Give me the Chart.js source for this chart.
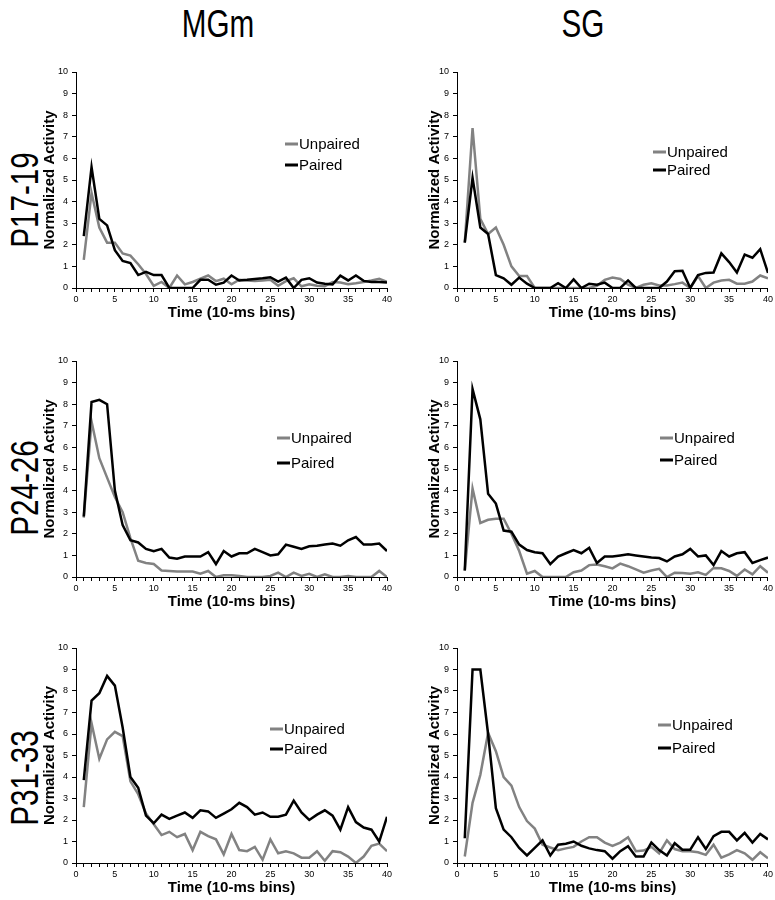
<!DOCTYPE html>
<html lang="en">
<head>
<meta charset="UTF-8">
<title>Normalized Activity</title>
<script src="https://cdn.jsdelivr.net/npm/chart.js"></script>
<style>
  body { margin: 0; background: #fff; }
  #page { position: relative; width: 775px; height: 900px; font-family: "Liberation Sans", Arial, sans-serif; overflow: hidden; }
  canvas { position: absolute; }
  .big { position: absolute; font-size: 38px; line-height: 1; white-space: nowrap; color: #000; }
  .lg { position: absolute; font-size: 15px; line-height: 1; white-space: nowrap; transform: translateY(-50%); }
  .lg span { display: inline-block; width: 13px; height: 3px; vertical-align: middle; margin-right: 1px; position: relative; top: -1px; }
</style>
</head>
<body>
<div id="page"></div>
<script>
// time bins (10 ms)
var bins = [1,2,3,4,5,6,7,8,9,10,11,12,13,14,15,16,17,18,19,20,21,22,23,24,25,26,27,28,29,30,31,32,33,34,35,36,37,38,39,40];
var xTickLabels = [0,5,10,15,20,25,30,35,40];
var yTicks = [0,1,2,3,4,5,6,7,8,9,10];
var colTitles = ['MGm', 'SG'];
var rowTitles = ['P17-19', 'P24-26', 'P31-33'];
var seriesNames = ['Unpaired', 'Paired'];

// P17-19
var mgm17Unp  = [1.3,4.4,2.8,2.1,2.1,1.6,1.5,1.1,0.65,0.1,0.28,0,0.58,0.17,0.28,0.43,0.58,0.32,0.43,0.17,0.38,0.35,0.32,0.35,0.38,0.1,0.32,0.45,0.08,0.17,0.1,0.08,0.28,0.25,0.17,0.22,0.28,0.35,0.43,0.28];
var mgm17Pair = [2.4,5.6,3.2,2.9,1.75,1.25,1.15,0.6,0.75,0.6,0.6,0,0,0,0,0.38,0.38,0.15,0.25,0.58,0.35,0.38,0.42,0.45,0.5,0.3,0.48,0,0.38,0.45,0.25,0.2,0.17,0.57,0.35,0.58,0.33,0.28,0.28,0.25];
var sg17Unp   = [2.1,7.4,3.2,2.5,2.8,2.0,1.0,0.55,0.55,0,0,0,0,0,0,0,0,0.1,0.38,0.48,0.42,0.15,0,0.15,0.22,0.12,0.12,0.18,0.25,0,0.55,0,0.25,0.35,0.38,0.2,0.2,0.3,0.58,0.45];
var sg17Pair  = [2.1,5.1,2.8,2.5,0.6,0.45,0.15,0.48,0.2,0,0,0,0.22,0,0.4,0,0.2,0.15,0.25,0,0,0.35,0,0,0,0,0.3,0.78,0.8,0,0.6,0.7,0.72,1.6,1.2,0.72,1.55,1.4,1.8,0.7];
// P24-26
var mgm24Unp  = [2.75,7.2,5.5,4.6,3.7,3.0,1.8,0.75,0.65,0.6,0.3,0.28,0.25,0.25,0.25,0.15,0.28,0,0.08,0.08,0.05,0,0,0,0.05,0.2,0,0.2,0.05,0.15,0,0.12,0,0,0.05,0,0,0,0.28,0];
var mgm24Pair = [2.8,8.1,8.2,8.0,4.0,2.4,1.7,1.6,1.3,1.2,1.3,0.9,0.85,0.95,0.95,0.95,1.15,0.6,1.2,0.95,1.1,1.1,1.3,1.15,1.0,1.05,1.5,1.4,1.3,1.42,1.45,1.5,1.55,1.45,1.7,1.85,1.5,1.5,1.55,1.2];
var sg24Unp   = [0.3,4.1,2.5,2.65,2.7,2.7,2.0,1.2,0.15,0.28,0,0,0,0,0.22,0.3,0.55,0.58,0.5,0.4,0.62,0.5,0.35,0.2,0.3,0.38,0,0.2,0.18,0.15,0.22,0.1,0.42,0.4,0.28,0.05,0.35,0.12,0.5,0.2];
var sg24Pair  = [0.3,8.7,7.3,3.85,3.4,2.15,2.1,1.5,1.25,1.15,1.1,0.6,0.95,1.1,1.25,1.1,1.35,0.65,0.95,0.95,1.0,1.05,1.0,0.95,0.9,0.88,0.72,0.95,1.05,1.3,0.95,1.0,0.55,1.2,0.95,1.1,1.15,0.65,0.78,0.9];
// P31-33
var mgm31Unp  = [2.6,6.5,4.85,5.75,6.1,5.9,3.8,3.2,2.3,1.8,1.3,1.45,1.2,1.35,0.6,1.45,1.25,1.1,0.4,1.35,0.6,0.55,0.75,0.15,1.1,0.45,0.55,0.45,0.25,0.25,0.55,0.1,0.55,0.5,0.3,0,0.3,0.8,0.9,0.55];
var mgm31Pair = [3.85,7.55,7.9,8.7,8.25,6.3,4.0,3.5,2.2,1.85,2.25,2.05,2.2,2.35,2.1,2.45,2.4,2.1,2.3,2.5,2.8,2.6,2.25,2.35,2.15,2.15,2.25,2.9,2.35,2.0,2.25,2.45,2.2,1.55,2.6,1.9,1.65,1.55,1.0,2.15];
var sg31Unp   = [0.3,2.8,4.1,6.05,5.2,4.0,3.6,2.6,1.95,1.6,0.85,0.72,0.6,0.68,0.75,1.0,1.2,1.2,0.95,0.8,0.95,1.2,0.55,0.58,0.75,0.45,1.05,0.65,0.55,0.55,0.5,0.38,0.85,0.25,0.4,0.6,0.45,0.15,0.5,0.22];
var sg31Pair  = [1.15,9.0,9.0,6.0,2.55,1.55,1.2,0.7,0.35,0.7,1.05,0.35,0.85,0.9,1.0,0.8,0.68,0.6,0.55,0.2,0.55,0.78,0.3,0.3,0.95,0.6,0.35,0.92,0.62,0.62,1.2,0.65,1.25,1.45,1.45,1.05,1.4,0.95,1.35,1.1];

var grey = '#828282';
var black = '#000000';

// layout of the grid (page pixels)
var rowsY = [{T: 72, B: 288}, {T: 361, B: 577}, {T: 648, B: 863}];
var colsX = [{L: 76, R: 387, tc: 50, cx: 0, cw: 400}, {L: 457, R: 768, tc: 435, cx: 400, cw: 375}];

var panels = [
  {row: 0, col: 0, unp: mgm17Unp, pair: mgm17Pair, xt: 'Time (10-ms bins)', lx: 285, ly: [143, 164]},
  {row: 0, col: 1, unp: sg17Unp,  pair: sg17Pair,  xt: 'Time (10-ms bins)', lx: 653, ly: [151, 169]},
  {row: 1, col: 0, unp: mgm24Unp, pair: mgm24Pair, xt: 'Time (10-ms bins)', lx: 277, ly: [437, 462]},
  {row: 1, col: 1, unp: sg24Unp,  pair: sg24Pair,  xt: 'Time (10-ms bins)', lx: 660, ly: [437, 459]},
  {row: 2, col: 0, unp: mgm31Unp, pair: mgm31Pair, xt: 'Time (10-ms bins)', lx: 270, ly: [728, 748]},
  {row: 2, col: 1, unp: sg31Unp,  pair: sg31Pair,  xt: 'TIme (10-ms bins)', lx: 658, ly: [724, 747]}
];

var page = document.getElementById('page');

function addText(txt, x, y, rot) {
  var d = document.createElement('div');
  d.className = 'big';
  d.textContent = txt;
  d.style.left = x + 'px';
  d.style.top = y + 'px';
  d.style.transform = 'translate(-50%,-50%)' + (rot ? ' rotate(-90deg)' : '') + ' scaleX(0.78)';
  page.appendChild(d);
}
addText(colTitles[0], 218, 24, false);
addText(colTitles[1], 583, 24, false);
addText(rowTitles[0], 25, 200, true);
addText(rowTitles[1], 25, 488, true);
addText(rowTitles[2], 25, 778, true);

function toPts(vals) {
  return vals.map(function (v, i) { return {x: bins[i], y: v}; });
}

panels.forEach(function (p) {
  var r = rowsY[p.row], c = colsX[p.col];
  var yTitleSize = 15, xTitleSize = 15;
  var scaleLeft = c.tc - yTitleSize * 1.2 / 2;
  var wy = c.L - scaleLeft;
  var hx = 25 + xTitleSize * 1.2 / 2;
  var padTop = 20;

  var cv = document.createElement('canvas');
  var h = (r.B - r.T) + padTop + hx;
  cv.width = c.cw; cv.height = h;
  cv.style.left = c.cx + 'px';
  cv.style.top = (r.T - padTop) + 'px';
  cv.style.width = c.cw + 'px';
  cv.style.height = h + 'px';
  page.appendChild(cv);

  new Chart(cv.getContext('2d'), {
    type: 'line',
    data: {
      datasets: [
        {label: seriesNames[0], data: toPts(p.unp), borderColor: grey, borderWidth: 2.5, pointRadius: 0, tension: 0, order: 1},
        {label: seriesNames[1], data: toPts(p.pair), borderColor: black, borderWidth: 2.5, pointRadius: 0, tension: 0, order: 0}
      ]
    },
    options: {
      responsive: false,
      animation: false,
      events: [],
      layout: {padding: {left: scaleLeft - c.cx, right: c.cx + c.cw - c.R, top: padTop, bottom: 0}},
      plugins: {legend: {display: false}, tooltip: {enabled: false}},
      scales: {
        x: {
          type: 'linear', min: 0, max: 40,
          afterFit: function (s) { s.height = hx; },
          ticks: {
            stepSize: 1, autoSkip: false, maxRotation: 0, padding: 2,
            color: '#000', font: {family: 'Liberation Sans', size: 9},
            callback: function (v) { return xTickLabels.indexOf(v) >= 0 ? v : ''; }
          },
          grid: {drawOnChartArea: false, drawTicks: true, tickLength: 4, color: '#000'},
          border: {display: true, color: '#000', width: 1},
          title: {display: true, text: p.xt, color: '#000', padding: 0,
                  font: {family: 'Liberation Sans', size: xTitleSize, weight: 'bold'}}
        },
        y: {
          min: 0, max: 10,
          afterFit: function (s) { s.width = wy; },
          afterBuildTicks: function (s) { s.ticks = yTicks.map(function (v) { return {value: v}; }); },
          ticks: {padding: 4, color: '#000', font: {family: 'Liberation Sans', size: 9}},
          grid: {drawOnChartArea: false, drawTicks: true, tickLength: 4, color: '#000'},
          border: {display: true, color: '#000', width: 1},
          title: {display: true, text: 'Normalized Activity', color: '#000', padding: 0,
                  font: {family: 'Liberation Sans', size: yTitleSize, weight: 'bold'}}
        }
      }
    }
  });

  // legend
  [[seriesNames[0], grey], [seriesNames[1], black]].forEach(function (item, k) {
    var d = document.createElement('div');
    d.className = 'lg';
    d.style.left = p.lx + 'px';
    d.style.top = p.ly[k] + 'px';
    var m = document.createElement('span');
    m.style.background = item[1];
    d.appendChild(m);
    d.appendChild(document.createTextNode(item[0]));
    page.appendChild(d);
  });
});
</script>
</body>
</html>
